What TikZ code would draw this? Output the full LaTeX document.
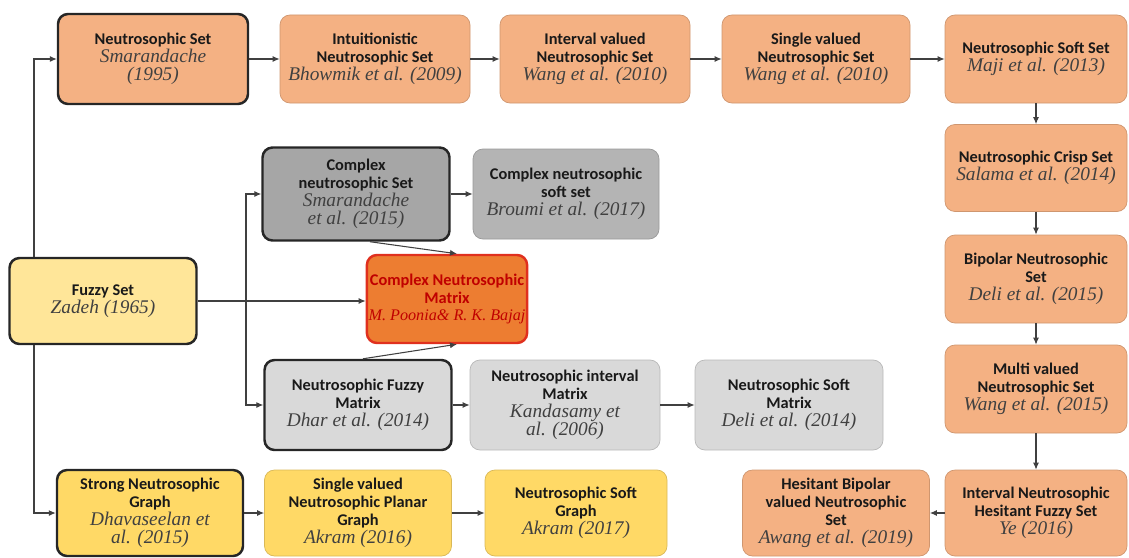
\documentclass[tikz,border=0pt]{standalone}
\usepackage{fontspec}
\setmainfont{Liberation Serif}
\setsansfont{Carlito}
\usetikzlibrary{arrows.meta}
\definecolor{peach}{HTML}{F4B183}
\definecolor{cream}{HTML}{FFE699}
\definecolor{gold}{HTML}{FFD966}
\definecolor{gray1}{HTML}{A6A6A6}
\definecolor{gray2}{HTML}{B4B4B4}
\definecolor{gray3}{HTML}{D9D9D9}
\definecolor{rust}{HTML}{ED7D31}
\definecolor{red1}{HTML}{E0301E}
\definecolor{red2}{HTML}{C00000}
\newcommand{\ttl}[1]{{\sffamily\bfseries\color{black!90}#1}}
\newcommand{\cit}[1]{{\rmfamily\itshape\fontsize{11}{11.5}\selectfont\color{black!75}#1}}

\begin{document}
\begin{tikzpicture}[x=0.2mm, y=-0.2mm,
  box/.style={rounded corners=2mm, align=center, inner sep=1pt,
    font=\fontsize{9.3}{10.2}\selectfont, minimum height=17.6mm},
  thin/.style={box, draw=#1!85!black, fill=#1, line width=0.4pt},
  thick/.style={box, draw=black!85, fill=#1, line width=1.4pt},
  arr/.style={-{Latex[length=1.4mm,width=1.2mm]}, draw=black!75, line width=0.6pt}]
\useasboundingbox (0,0) rectangle (1129,558);

% top row
\node[thick=peach, minimum width=38mm, minimum height=18mm] (ns) at (153,59)
  {\ttl{Neutrosophic Set}\\\cit{Smarandache}\\\cit{(1995)}};
\node[thin=peach, minimum width=38mm] (intu) at (375,59)
  {\ttl{Intuitionistic}\\\ttl{Neutrosophic Set}\\\cit{Bhowmik et al. (2009)}};
\node[thin=peach, minimum width=38mm] (iv) at (595,59)
  {\ttl{Interval valued}\\\ttl{Neutrosophic Set}\\\cit{Wang et al. (2010)}};
\node[thin=peach, minimum width=37.6mm] (sv) at (816,59)
  {\ttl{Single valued}\\\ttl{Neutrosophic Set}\\\cit{Wang et al. (2010)}};
\node[thin=peach, minimum width=36.4mm] (nss) at (1036,59)
  {\ttl{Neutrosophic Soft Set}\\\cit{Maji et al. (2013)}};

% right column
\node[thin=peach, minimum width=36.4mm, minimum height=17.4mm] (crisp) at (1036,168)
  {\ttl{Neutrosophic Crisp Set}\\\cit{Salama et al. (2014)}};
\node[thin=peach, minimum width=36.4mm] (bip) at (1036,279)
  {\ttl{Bipolar Neutrosophic}\\\ttl{Set}\\\cit{Deli et al. (2015)}};
\node[thin=peach, minimum width=36.4mm] (multi) at (1036,389)
  {\ttl{Multi valued}\\\ttl{Neutrosophic Set}\\\cit{Wang et al. (2015)}};
\node[thin=peach, minimum width=36.4mm, minimum height=17.2mm] (inh) at (1036,513)
  {\ttl{Interval Neutrosophic}\\\ttl{Hesitant Fuzzy Set}\\\cit{Ye (2016)}};
\node[thin=peach, minimum width=37.4mm, minimum height=17.2mm] (hbv) at (836,513)
  {\ttl{Hesitant Bipolar}\\\ttl{valued Neutrosophic}\\\ttl{Set}\\\cit{Awang et al. (2019)}};

% fuzzy set and middle
\node[thick=cream, minimum width=37.4mm, minimum height=17.2mm] (fuzzy) at (103,301)
  {\ttl{Fuzzy Set}\\\cit{Zadeh (1965)}};
\node[thick=gray1, minimum width=37.4mm, minimum height=18.6mm] (cns) at (356,194)
  {\ttl{Complex}\\\ttl{neutrosophic Set}\\\cit{Smarandache}\\\cit{et al. (2015)}};
\node[thin=gray2, minimum width=37.2mm, minimum height=18mm] (cnss) at (566,194)
  {\ttl{Complex neutrosophic}\\\ttl{soft set}\\\cit{Broumi et al. (2017)}};
\node[box, draw=red1, fill=rust, line width=1.4pt, minimum width=32mm] (cnm) at (447,299)
  {\textcolor{red2}{\sffamily\bfseries Complex Neutrosophic}\\\textcolor{red2}{\sffamily\bfseries Matrix}\\
   \textcolor{red2}{\rmfamily\itshape\fontsize{9.2}{10.5}\selectfont M. Poonia\& R. K. Bajaj}};
\node[thick=gray3, minimum width=37.4mm, minimum height=18mm] (nfm) at (358,405)
  {\ttl{Neutrosophic Fuzzy}\\\ttl{Matrix}\\\cit{Dhar et al. (2014)}};
\node[thin=gray3, minimum width=38mm, minimum height=18mm] (nim) at (565,405)
  {\ttl{Neutrosophic interval}\\\ttl{Matrix}\\\cit{Kandasamy et}\\\cit{al. (2006)}};
\node[thin=gray3, minimum width=37.6mm, minimum height=18mm] (nsm) at (789,405)
  {\ttl{Neutrosophic Soft}\\\ttl{Matrix}\\\cit{Deli et al. (2014)}};

% bottom row
\node[thick=gold, minimum width=37.2mm, minimum height=17.2mm] (sng) at (150,513)
  {\ttl{Strong Neutrosophic}\\\ttl{Graph}\\\cit{Dhavaseelan et}\\\cit{al. (2015)}};
\node[thin=gold, minimum width=37.4mm, minimum height=17.2mm] (svpg) at (358,513)
  {\ttl{Single valued}\\\ttl{Neutrosophic Planar}\\\ttl{Graph}\\\cit{Akram (2016)}};
\node[thin=gold, minimum width=36.4mm, minimum height=17.2mm] (nsg) at (576,513)
  {\ttl{Neutrosophic Soft}\\\ttl{Graph}\\\cit{Akram (2017)}};

% connectors
\coordinate (jl) at (34,0);
\coordinate (jm) at (246,0);
\draw[arr] (fuzzy.north -| jl) |- (ns.west);
\draw[arr] (fuzzy.south -| jl) |- (sng.west);
\draw[arr] (fuzzy.east) -- (fuzzy.east -| cnm.west);
\draw[arr] (fuzzy.east -| jm) |- (cns.west);
\draw[arr] (fuzzy.east -| jm) |- (nfm.west);
\draw[arr] ([xshift=2.8mm]cns.south) -- ([xshift=2mm]cnm.north);
\draw[arr] ([xshift=1mm]nfm.north) -- ([xshift=2mm]cnm.south);
\draw[arr] (ns) -- (intu);
\draw[arr] (intu) -- (iv);
\draw[arr] (iv) -- (sv);
\draw[arr] (sv) -- (nss);
\draw[arr] (nss) -- (crisp);
\draw[arr] (crisp) -- (bip);
\draw[arr] (bip) -- (multi);
\draw[arr] (multi) -- (inh);
\draw[arr] (inh) -- (hbv);
\draw[arr] (cns) -- (cnss);
\draw[arr] (nfm) -- (nim);
\draw[arr] (nim) -- (nsm);
\draw[arr] (sng) -- (svpg);
\draw[arr] (svpg) -- (nsg);
\end{tikzpicture}
\end{document}
